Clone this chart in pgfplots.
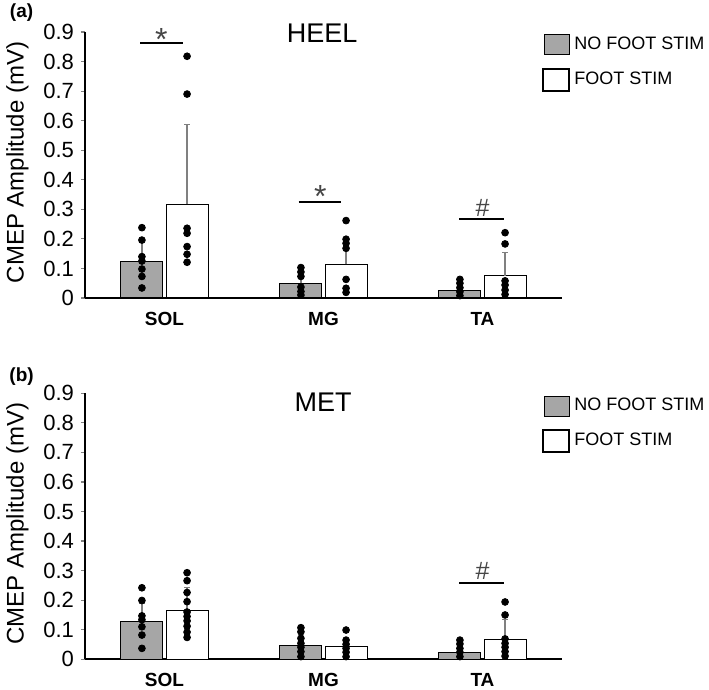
\documentclass[border=0pt]{standalone}
\usepackage{fontspec}
\setmainfont{Liberation Sans}
\usepackage{pgfplots}
\pgfplotsset{compat=1.18}
\definecolor{barg}{RGB}{166,166,166}
\definecolor{errg}{RGB}{128,128,128}
\definecolor{sigg}{RGB}{70,70,70}

\pgfplotsset{
  cmep/.style={
    scale only axis,
    width=238.5pt, height=133pt,
    anchor=south west,
    xmin=-0.5, xmax=2.5,
    ymin=0, ymax=0.9,
    clip=false,
    axis x line*=bottom, axis y line*=left,
    axis line style={-, line width=0.8pt},
    xtick={0,1,2},
    xticklabels={SOL,MG,TA},
    xtick style={draw=none},
    xticklabel style={font=\fontsize{9.5}{11}\selectfont\bfseries, yshift=-1.5pt},
    ytick={0,0.1,...,0.9},
    yticklabels={0,0.1,0.2,0.3,0.4,0.5,0.6,0.7,0.8,0.9},
    ytick style={line width=0.6pt},
    tick align=outside,
    major tick length=2pt,
    yticklabel style={font=\fontsize{11}{13}\selectfont},
    /pgf/number format/assume math mode=true,
    ylabel={CMEP Amplitude (mV)},
    ylabel style={font=\fontsize{12}{14}\selectfont, at={(axis description cs:-0.1415,0.51)}, anchor=center},
    legend cell align=left,
    legend style={at={(axis description cs:0.958,0.998)}, anchor=north west,
      draw=none, fill=none, inner sep=0pt,
      font=\fontsize{9}{11}\selectfont, row sep=5.5pt},
  },
  gbar/.style={ybar, bar width=0.265, bar shift=0pt, fill=barg, draw=black, line width=0.5pt,
    forget plot,
    error bars/y dir=plus, error bars/y explicit,
    error bars/error bar style={errg, line width=0.6pt},
    error bars/error mark options={errg, mark size=1.3pt, rotate=90, line width=0.6pt}},
  wbar/.style={gbar, fill=white},
  dots/.style={only marks, mark=*, mark size=1.7pt, black, forget plot},
  sig/.style={black, line width=1pt, forget plot},
}

\newcommand{\legimgs}{%
  \addlegendimage{legend image code/.code={\draw[fill=barg, draw=black, line width=0.5pt] (0pt,-5pt) rectangle (12.5pt,5pt);}}
  \addlegendentry{NO FOOT STIM}
  \addlegendimage{legend image code/.code={\draw[fill=white, draw=black, line width=1pt] (-0.5pt,-5.5pt) rectangle (12.5pt,5.5pt);}}
  \addlegendentry{FOOT STIM}
}

\begin{document}
\begin{tikzpicture}
\useasboundingbox (0,0) rectangle (354.5pt,-345pt);

% ---------------- (a) HEEL ----------------
\begin{axis}[cmep, at={(42.5pt,-149pt)}]
\legimgs
\addplot[gbar] coordinates {(-0.142,0.125) +- (0,0.062) (0.858,0.050) +- (0,0.025) (1.858,0.025) +- (0,0.015)};
\addplot[wbar] coordinates {(0.142,0.318) +- (0,0.270) (1.142,0.114) +- (0,0.091) (2.142,0.075) +- (0,0.078)};
% individual participants
\addplot[dots] coordinates {
  (-0.142,0.238) (-0.142,0.196) (-0.142,0.140) (-0.142,0.125) (-0.142,0.098) (-0.142,0.073) (-0.142,0.034)
  (0.142,0.818) (0.142,0.690) (0.142,0.236) (0.142,0.219) (0.142,0.174) (0.142,0.148) (0.142,0.121)
  (0.858,0.103) (0.858,0.088) (0.858,0.073) (0.858,0.037) (0.858,0.022) (0.858,0.010)
  (1.142,0.262) (1.142,0.199) (1.142,0.185) (1.142,0.168) (1.142,0.063) (1.142,0.033) (1.142,0.019)
  (1.858,0.063) (1.858,0.050) (1.858,0.035) (1.858,0.021) (1.858,0.008)
  (2.142,0.221) (2.142,0.183) (2.142,0.058) (2.142,0.044) (2.142,0.027) (2.142,0.012)
};
% significance bars
\addplot[sig] coordinates {(-0.151,0.863) (0.119,0.863)};
\addplot[sig] coordinates {(0.843,0.326) (1.113,0.326)};
\addplot[sig] coordinates {(1.855,0.266) (2.138,0.266)};
\node[anchor=base, text=sigg, font=\fontsize{16}{18}\selectfont] at (axis cs:-0.02,0.838) {*};
\node[anchor=base, text=sigg, font=\fontsize{16}{18}\selectfont] at (axis cs:0.98,0.307) {*};
\node[anchor=base, text=sigg, font=\fontsize{12.5}{14}\selectfont] at (axis cs:2.0,0.277) {\#};
\node[font=\fontsize{13.5}{16}\selectfont] at (rel axis cs:0.497,0.994) {HEEL};
\node[font=\fontsize{9.5}{11}\selectfont\bfseries] at (axis description cs:-0.133,1.073) {(a)};
\end{axis}

% ---------------- (b) MET ----------------
\begin{axis}[cmep, at={(42.5pt,-329.65pt)}]
\legimgs
\addplot[gbar] coordinates {(-0.142,0.127) +- (0,0.063) (0.858,0.047) +- (0,0.028) (1.858,0.022) +- (0,0.018)};
\addplot[wbar] coordinates {(0.142,0.164) +- (0,0.079) (1.142,0.043) +- (0,0.022) (2.142,0.068) +- (0,0.067)};
\addplot[dots] coordinates {
  (-0.142,0.242) (-0.142,0.199) (-0.142,0.147) (-0.142,0.134) (-0.142,0.110) (-0.142,0.082) (-0.142,0.037)
  (0.142,0.293) (0.142,0.266) (0.142,0.226) (0.142,0.195) (0.142,0.160) (0.142,0.145) (0.142,0.130) (0.142,0.112) (0.142,0.092) (0.142,0.074)
  (0.858,0.107) (0.858,0.093) (0.858,0.071) (0.858,0.054) (0.858,0.041) (0.858,0.026) (0.858,0.009)
  (1.142,0.099) (1.142,0.065) (1.142,0.051) (1.142,0.037) (1.142,0.024) (1.142,0.009)
  (1.858,0.065) (1.858,0.052) (1.858,0.037) (1.858,0.024) (1.858,0.009)
  (2.142,0.194) (2.142,0.150) (2.142,0.069) (2.142,0.054) (2.142,0.041) (2.142,0.026) (2.142,0.011)
};
\addplot[sig] coordinates {(1.855,0.257) (2.138,0.257)};
\node[anchor=base, text=sigg, font=\fontsize{12.5}{14}\selectfont] at (axis cs:2.0,0.270) {\#};
\node[font=\fontsize{13.5}{16}\selectfont] at (rel axis cs:0.499,0.967) {MET};
\node[font=\fontsize{9.5}{11}\selectfont\bfseries] at (axis description cs:-0.133,1.0626) {(b)};
\end{axis}
\end{tikzpicture}
\end{document}
